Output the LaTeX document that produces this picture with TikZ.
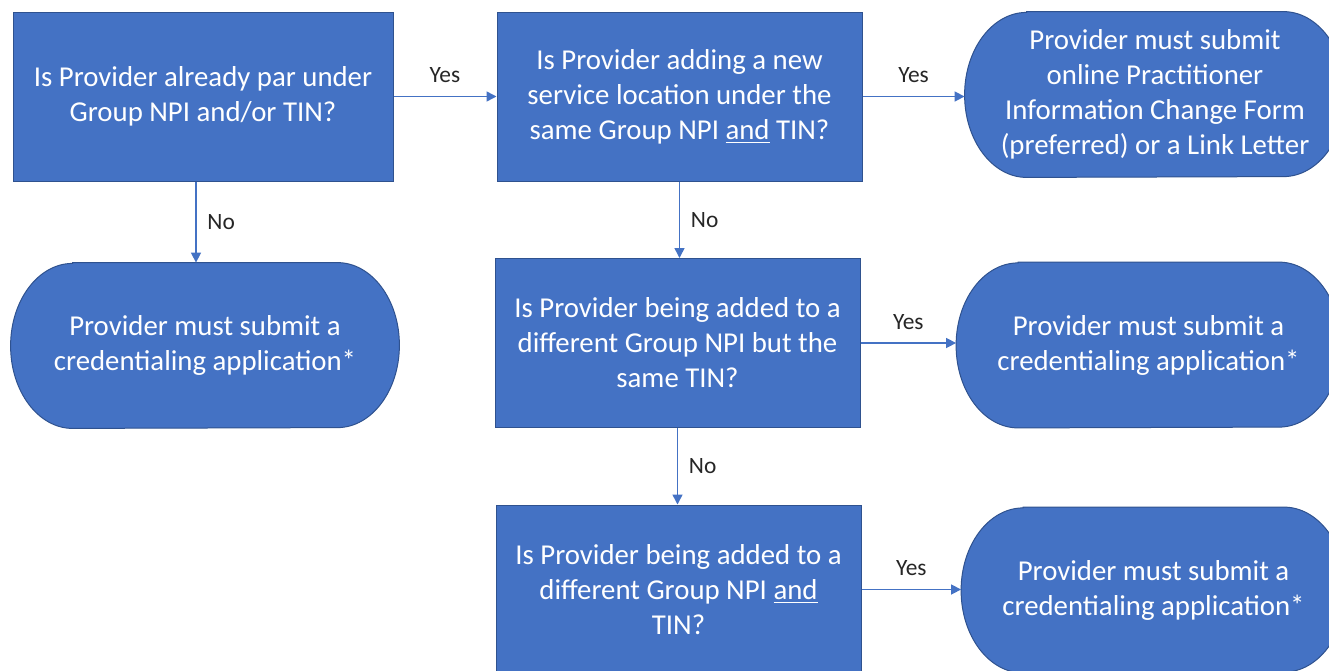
\documentclass[tikz,border=0pt]{standalone}
\usepackage{fontspec}
\setmainfont{Carlito}
\usetikzlibrary{arrows.meta,backgrounds}
\definecolor{boxblue}{HTML}{4472C4}
\definecolor{boxline}{HTML}{2F528F}
\newcommand\flowfont{\fontsize{14.4}{17.5}\selectfont}

\begin{document}
\begin{tikzpicture}[x=0.5pt, y=-0.5pt,
    question/.style={draw=boxline, fill=boxblue, line width=0.5pt, text=white, align=center,
      minimum width=182.5pt, minimum height=84.5pt, font=\flowfont},
    answer/.style={text=white, align=center, minimum width=192pt, minimum height=82.5pt,
      inner sep=0pt, font=\flowfont},
    flow/.style={boxblue, line width=0.75pt, -{Triangle[length=5pt,width=5pt]}},
    lbl/.style={text=black!85, font=\fontsize{11.7}{14}\selectfont}]

    \useasboundingbox (0,0) rectangle (1329,670);

    \node[question, minimum width=190pt] (q1) at (203,96.5) {Is Provider already par under\\Group NPI and/or TIN?};
    \node[question] (q2) at (679.5,96.5) {Is Provider adding a new\\service location under the\\same Group NPI \underline{and} TIN?};
    \node[question] (q3) at (677.5,343) {Is Provider being added to a\\different Group NPI but the\\same TIN?};
    \node[question] (q4) at (678.5,589.5) {Is Provider being added to a\\different Group NPI \underline{and}\\TIN?};

    \node[answer, minimum width=194pt] (t0) at (205,345.5) {Provider must submit a\\credentialing application*};
    \node[answer, minimum width=190pt] (t1) at (1155,94.5) {Provider must submit\\online Practitioner\\Information Change Form\\(preferred) or a Link Letter};
    \node[answer] (t2) at (1148.5,345) {Provider must submit a\\credentialing application*};
    \node[answer] (t3) at (1153.5,590) {Provider must submit a\\credentialing application*};

    % terminator outlines behind the texts
    \begin{pgfonlayer}{background}
      \foreach \t in {t0,t1,t2,t3}
        \draw[draw=boxline, fill=boxblue, line width=0.5pt]
          ([xshift=31pt]\t.north west) -- ([xshift=-31pt]\t.north east)
          arc[start angle=90, end angle=-90, x radius=31pt, y radius=41.25pt]
          -- ([xshift=31pt]\t.south west)
          arc[start angle=270, end angle=90, x radius=31pt, y radius=41.25pt] -- cycle;
    \end{pgfonlayer}

    \draw[flow] (q1.east) -- (q2.west) node[lbl, midway, above=3pt] {Yes};
    \draw[flow] (q2.east) -- (q2.east -| t1.west) node[lbl, midway, above=3pt] {Yes};
    \draw[flow] ([xshift=-3.5pt]q1.south) -- ([xshift=-3.5pt]q1.south |- t0.north) node[lbl, midway, right=2pt] {No};
    \draw[flow] (q2.south) -- (q2.south |- q3.north) node[lbl, midway, right=2pt] {No};
    \draw[flow] (q3.east) -- (q3.east -| t2.west) node[lbl, midway, above=3pt] {Yes};
    \draw[flow] (q3.south) -- (q3.south |- q4.north) node[lbl, midway, right=2pt] {No};
    \draw[flow] (q4.east) -- (q4.east -| t3.west) node[lbl, midway, above=3pt] {Yes};

\end{tikzpicture}
\end{document}
